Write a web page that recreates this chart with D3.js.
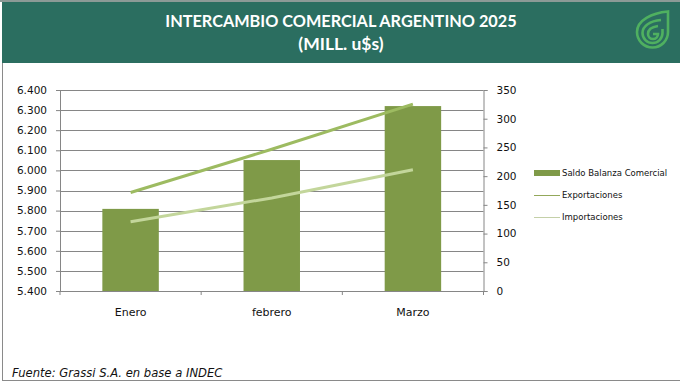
<!DOCTYPE html>
<html lang="en">
<head>
    <meta charset="UTF-8">
    <title>Intercambio comercial Argentino 2025</title>
    <script src="https://d3js.org/d3.v7.min.js"></script>
    <style>
        html, body { margin: 0; padding: 0; background: #fff; }
        svg { display: block; }
        .tick text { font-family: "DejaVu Sans", sans-serif; font-size: 10.5px; fill: #111; }
        .months .tick text { font-size: 11px; }
    </style>
</head>
<body>
    <div id="my_dataviz"></div>

    <script>
        // Values
        var months = ["Enero", "febrero", "Marzo"];
        var saldo = [143, 228, 322];
        var exportaciones = [5890, 6105, 6330];
        var importaciones = [5745, 5863, 6003];
        var leftTicks = [5400, 5500, 5600, 5700, 5800, 5900, 6000, 6100, 6200, 6300, 6400];
        var rightTicks = [0, 50, 100, 150, 200, 250, 300, 350];
        var titleLines = ["INTERCAMBIO COMERCIAL ARGENTINO 2025", "(MILL. u$s)"];
        var legendNames = ["Saldo Balanza Comercial", "Exportaciones", "Importaciones"];
        var source = "Fuente: Grassi S.A. en base a INDEC";

        var margin = {top: 90, right: 196.5, bottom: 90, left: 60};
        var width = 680 - margin.left - margin.right;
        var height = 381 - margin.top - margin.bottom;

        var svg = d3.select("#my_dataviz")
            .append("svg")
            .attr("width", 680)
            .attr("height", 381);

        // Frame and header band
        svg.append("rect").attr("x", 0).attr("y", 0).attr("width", 680).attr("height", 2).attr("fill", "#8c9a96");
        svg.append("rect").attr("x", 2).attr("y", 2).attr("width", 678).attr("height", 61).attr("fill", "#2b6e60");
        svg.append("line").attr("x1", 2.5).attr("x2", 2.5).attr("y1", 63).attr("y2", 381).attr("stroke", "#8a8a8a");
        svg.append("line").attr("x1", 2).attr("x2", 680).attr("y1", 380.5).attr("y2", 380.5).attr("stroke", "#8a8a8a");

        svg.selectAll(".title")
            .data(titleLines)
            .enter()
            .append("text")
            .attr("class", "title")
            .attr("x", 341)
            .attr("y", function(d, i) { return 27 + i * 23; })
            .attr("text-anchor", "middle")
            .attr("font-family", "Lato, sans-serif")
            .attr("font-weight", "bold")
            .attr("font-size", function(d, i) { return i ? 17.5 : 16.3; })
            .attr("fill", "#fff")
            .text(function(d) { return d; });

        // Leaf logo
        var logo = svg.append("g").attr("fill", "none").attr("stroke", "#4fb060").attr("stroke-width", 2.6);
        logo.append("path").attr("d", "M668 11.5 V32 A15.5 15.5 0 1 1 637 32 C637 20 652 13 668 11.5Z");
        logo.append("path").attr("d", "M661 20 C650 21 642.5 26 642.5 33 A10 10 0 0 0 662.5 33 V29");
        logo.append("path").attr("d", "M658 26 C651 27 648 30 648 34 A5 5 0 0 0 658 34 H653");

        var chart = svg.append("g")
            .attr("transform", "translate(" + margin.left + "," + margin.top + ")");

        var x = d3.scaleBand()
            .domain(months)
            .range([0, width])
            .paddingInner(0.6)
            .paddingOuter(0.3);
        var center = function(d) { return x(d) + x.bandwidth() / 2; };

        var yLeft = d3.scaleLinear().domain([5400, 6400]).range([height, 0]);
        var yRight = d3.scaleLinear().domain([0, 350]).range([height, 0]);

        var dotted = d3.formatLocale({decimal: ",", thousands: ".", grouping: [3], currency: ["", ""]}).format(",");

        // Gridlines
        chart.append("g")
            .selectAll("line")
            .data(leftTicks)
            .enter()
            .append("line")
            .attr("x1", 0)
            .attr("x2", width)
            .attr("y1", function(d) { return Math.round(yLeft(d)) + 0.5; })
            .attr("y2", function(d) { return Math.round(yLeft(d)) + 0.5; })
            .attr("stroke", "#868686");

        // Axes
        var axisLeft = chart.append("g")
            .call(d3.axisLeft(yLeft).tickValues(leftTicks).tickFormat(dotted).tickSize(4).tickPadding(9));
        var axisRight = chart.append("g")
            .attr("transform", "translate(" + width + ",0)")
            .call(d3.axisRight(yRight).tickValues(rightTicks).tickSize(4).tickPadding(9));
        var axisBottom = chart.append("g")
            .attr("class", "months")
            .attr("transform", "translate(0," + height + ")")
            .call(d3.axisBottom(x).tickSize(0).tickPadding(17));
        axisBottom.selectAll("line.edge")
            .data(d3.range(months.length + 1))
            .enter()
            .append("line")
            .attr("class", "edge")
            .attr("x1", function(d) { return d * width / months.length; })
            .attr("x2", function(d) { return d * width / months.length; })
            .attr("y1", 0)
            .attr("y2", 4)
            .attr("stroke", "#868686");
        [axisLeft, axisRight, axisBottom].forEach(function(a) {
            a.selectAll("path, line").attr("stroke", "#868686");
        });

        // Bars, on the right axis
        chart.append("g")
            .selectAll("rect")
            .data(saldo)
            .enter()
            .append("rect")
            .attr("x", function(d, i) { return x(months[i]); })
            .attr("y", function(d) { return yRight(d); })
            .attr("width", x.bandwidth())
            .attr("height", function(d) { return height - yRight(d); })
            .attr("fill", "#7f9a48");

        // Lines, on the left axis
        var line = d3.line()
            .x(function(d, i) { return center(months[i]); })
            .y(function(d) { return yLeft(d); });
        chart.append("path").datum(exportaciones)
            .attr("d", line).attr("fill", "none").attr("stroke", "#9dbb61").attr("stroke-width", 3);
        chart.append("path").datum(importaciones)
            .attr("d", line).attr("fill", "none").attr("stroke", "#c3d69b").attr("stroke-width", 3);

        // Legend
        var legend = svg.append("g").attr("transform", "translate(534,173)");
        legend.append("rect").attr("x", 0).attr("y", -3).attr("width", 26).attr("height", 6).attr("fill", "#7f9a48");
        legend.append("line").attr("x1", 0).attr("x2", 26).attr("y1", 22.5).attr("y2", 22.5).attr("stroke", "#93a85a");
        legend.append("line").attr("x1", 0).attr("x2", 26).attr("y1", 44.5).attr("y2", 44.5).attr("stroke", "#c4d0a8");
        legend.selectAll("text")
            .data(legendNames)
            .enter()
            .append("text")
            .attr("x", 28)
            .attr("y", function(d, i) { return i * 22 + 3; })
            .attr("font-family", "DejaVu Sans, sans-serif")
            .attr("font-size", 8.5)
            .attr("fill", "#111")
            .text(function(d) { return d; });

        // Source note
        svg.append("text")
            .attr("x", 12)
            .attr("y", 377)
            .attr("font-family", "DejaVu Sans, sans-serif")
            .attr("font-style", "italic")
            .attr("font-size", 11.6)
            .attr("fill", "#111")
            .text(source);
    </script>
</body>
</html>
